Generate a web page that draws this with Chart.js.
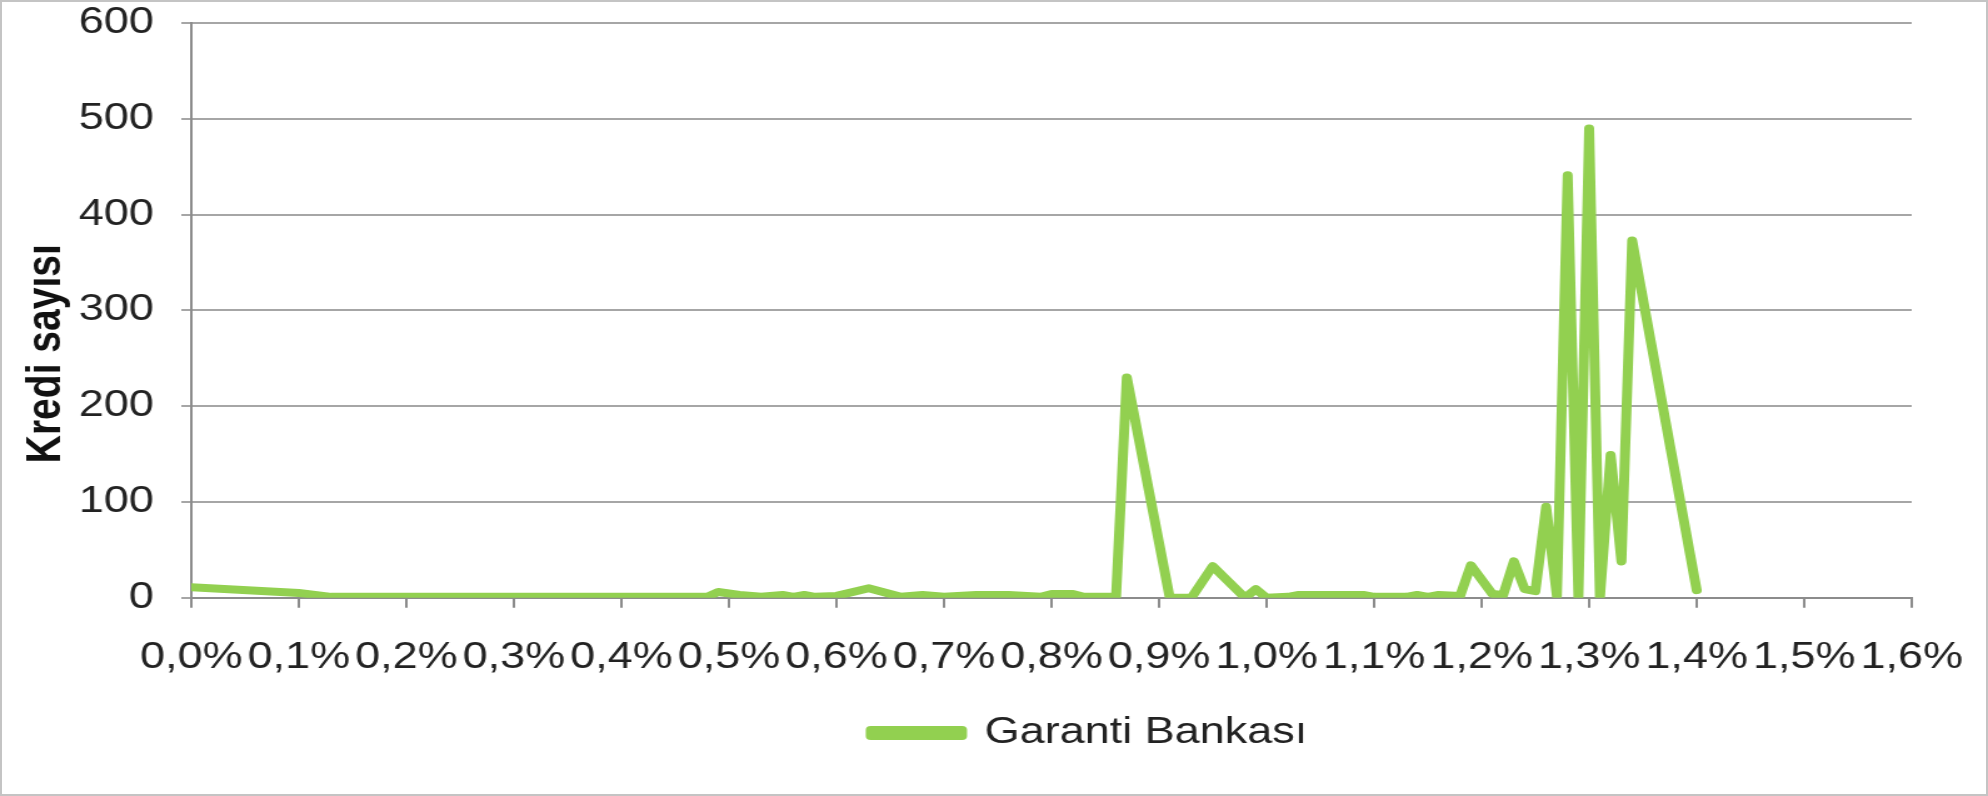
<!DOCTYPE html>
<html>
<head>
<meta charset="utf-8">
<script src="https://cdn.jsdelivr.net/npm/chart.js@4.4.0/dist/chart.umd.min.js"></script>
<style>
  html, body { margin: 0; padding: 0; background: #fff; }
  .wrap { position: relative; width: 1988px; height: 796px; overflow: hidden; }
  #kredi { position: absolute; left: 0; top: 0; }
  .frame {
    position: absolute; left: 0; top: 0; width: 1988px; height: 796px;
    box-sizing: border-box; border: 2px solid #c4c4c4; pointer-events: none;
  }
</style>
</head>
<body>
<div class="wrap">
  <!-- the source picture is stretched sideways: draw narrower, show wider -->
  <canvas id="kredi" width="1590" height="796" style="width:1988px;height:796px"></canvas>
  <div class="frame"></div>
</div>
<script>
// faiz oranı (%) ve kredi sayısı
const rates = [
  0.00, 0.10, 0.13, 0.20, 0.30, 0.40, 0.48, 0.49, 0.51, 0.53,
  0.55, 0.56, 0.57, 0.58, 0.60, 0.63, 0.66, 0.68, 0.70, 0.73,
  0.76, 0.79, 0.80, 0.82, 0.83, 0.86, 0.87, 0.91, 0.93, 0.95,
  0.98, 0.99, 1.00, 1.02, 1.03, 1.09, 1.10, 1.13, 1.14, 1.15,
  1.16, 1.18, 1.19, 1.21, 1.22, 1.23, 1.24, 1.25, 1.26, 1.27,
  1.28, 1.29, 1.30, 1.31, 1.32, 1.33, 1.34, 1.40
];
const counts = [
  11, 5, 1, 1, 1, 1, 1, 6, 3, 1,
  3, 1, 3, 1, 2, 10, 1, 3, 1, 3,
  3, 1, 4, 4, 1, 1, 230, 0, 0, 33,
  0, 9, 0, 1, 3, 3, 1, 1, 3, 1,
  3, 2, 34, 4, 3, 38, 9, 7, 95, 2,
  441, 0, 490, 0, 149, 38, 373, 8
];
const seriesName = 'Garanti Bankası';
const yTitle = 'Kredi sayısı';
const xMin = 0, xMax = 1.6, xStep = 0.1;
const yMin = 0, yMax = 600, yStep = 100;

const points = rates.map((r, i) => ({ x: r, y: counts[i] }));

const font = { family: '"Liberation Sans", Arial, sans-serif', size: 36 };

// nudge the legend a bit to the right, like the original
const legendShift = {
  id: 'legendShift',
  afterLayout(chart) {
    chart.legend.left += 60;
  },
};

new Chart(document.getElementById('kredi'), {
  type: 'line',
  data: {
    datasets: [{
      label: seriesName,
      data: points,
      borderColor: '#92D050',
      backgroundColor: '#92D050',
      borderWidth: 8,
      pointRadius: 0,
      tension: 0,
      borderJoinStyle: 'round',
      borderCapStyle: 'round',
    }],
  },
  plugins: [legendShift],
  options: {
    responsive: false,
    animation: false,
    devicePixelRatio: 1,
    layout: { padding: { top: 0, right: 0, bottom: 35, left: 0 } },
    plugins: {
      tooltip: { enabled: false },
      legend: {
        position: 'bottom',
        fullSize: false,
        labels: {
          color: '#222',
          font: font,
          boxWidth: 73,
          boxHeight: 6,
          padding: 6,
        },
      },
    },
    scales: {
      x: {
        type: 'linear',
        min: xMin,
        max: xMax,
        afterFit(scale) {
          scale.paddingLeft = 0;
          scale.paddingRight = 61;
        },
        ticks: {
          stepSize: xStep,
          color: '#222',
          font: font,
          padding: 29,
          maxRotation: 0,
          autoSkip: false,
          callback: (v) => v.toFixed(1).replace('.', ',') + '%',
        },
        grid: {
          drawOnChartArea: false,
          drawTicks: true,
          tickLength: 10,
          color: '#8c8c8c',
          lineWidth: 2,
        },
        border: { color: '#8c8c8c', width: 2 },
      },
      y: {
        min: yMin,
        max: yMax,
        afterFit(scale) {
          scale.width = 153;
          scale.paddingTop = 23;
          scale.paddingBottom = 0;
        },
        ticks: {
          stepSize: yStep,
          color: '#222',
          font: font,
          padding: 22,
        },
        grid: {
          color: '#a6a6a6',
          lineWidth: 2,
          tickLength: 8,
        },
        border: { color: '#8c8c8c', width: 2 },
        title: {
          display: true,
          // trailing spaces push the centred title down, as in the original
          text: yTitle + '\u00a0'.repeat(8),
          color: '#111',
          font: { family: font.family, size: 39, weight: 'bold' },
          padding: { top: 14, bottom: 0 },
        },
      },
    },
  },
});
</script>
</body>
</html>
